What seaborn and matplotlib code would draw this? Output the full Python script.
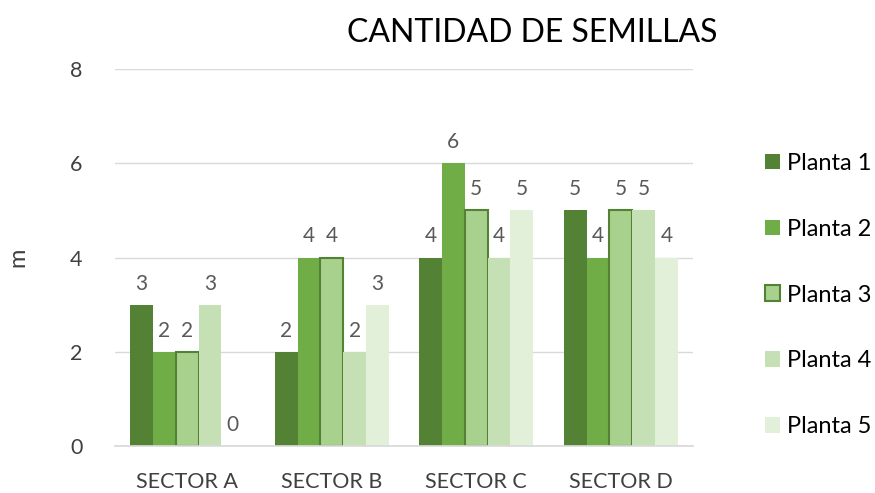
import matplotlib
matplotlib.use("Agg")
import matplotlib.pyplot as plt
import seaborn as sns
import pandas as pd
from matplotlib.patches import Patch

sectors = ["SECTOR A", "SECTOR B", "SECTOR C", "SECTOR D"]
plantas = ["Planta 1", "Planta 2", "Planta 3", "Planta 4", "Planta 5"]
planta1 = [3, 2, 4, 5]
planta2 = [2, 4, 6, 4]
planta3 = [2, 4, 5, 5]
planta4 = [3, 2, 4, 5]
planta5 = [0, 3, 5, 4]
yticks = [0, 2, 4, 6, 8]

series = [planta1, planta2, planta3, planta4, planta5]
rows = []
for p, vals in zip(plantas, series):
    for s, v in zip(sectors, vals):
        rows.append({"Sector": s, "Planta": p, "Valor": v})
df = pd.DataFrame(rows)

colors = ["#548235", "#70AD47", "#A9D18E", "#C5E0B4", "#E2F0D9"]

sns.set_theme(style="white")
plt.rcParams["font.family"] = ["Lato", "DejaVu Sans"]

fig = plt.figure(figsize=(8.75, 4.93), dpi=100)
ax = fig.add_axes([115/875, 1-446/493, (693-115)/875, (446-69)/493])

sns.barplot(data=df, x="Sector", y="Valor", hue="Planta", palette=colors,
            order=sectors, hue_order=plantas, width=0.79, ax=ax,
            saturation=1, legend=False, edgecolor="none", linewidth=0)

for i, cont in enumerate(ax.containers):
    if i == 2:
        for patch in cont:
            patch.set_edgecolor("#548235")
            patch.set_linewidth(1.5)
    ax.bar_label(cont, labels=[str(int(v)) for v in series[i]], padding=8,
                 fontsize=15, color="#595959")

ax.set_ylim(0, 8)
ax.set_xlim(-0.5, 3.5)
ax.set_yticks(yticks)
ax.set_yticklabels([str(t) for t in yticks])
ax.yaxis.grid(True, color="#D9D9D9", linewidth=1)
ax.set_axisbelow(True)
for sp in ["top", "right", "left"]:
    ax.spines[sp].set_visible(False)
ax.spines["bottom"].set_color("#D9D9D9")
ax.tick_params(axis="both", length=0, labelsize=15.5, labelcolor="#404040")
ax.tick_params(axis="y", pad=23.5)
ax.tick_params(axis="x", pad=19)
ax.set_xlabel("")
ax.set_ylabel("m", fontsize=17, color="#404040", labelpad=30)

fig.text(532/875, 1-33/493, "CANTIDAD DE SEMILLAS", ha="center", va="center",
         fontsize=23, color="#000000")

handles = []
for i, (p, c) in enumerate(zip(plantas, colors)):
    if i == 2:
        handles.append(Patch(facecolor=c, edgecolor="#548235", linewidth=1.5, label=p))
    else:
        handles.append(Patch(facecolor=c, edgecolor="none", label=p))
fig.legend(handles=handles, loc="center left", bbox_to_anchor=(765/875, 1-295/493),
           frameon=False, fontsize=17, labelspacing=1.9, handlelength=0.64,
           handleheight=0.64, handletextpad=0.3, borderpad=0, borderaxespad=0,
           labelcolor="#000000")

fig.savefig("out.png", dpi=100)
